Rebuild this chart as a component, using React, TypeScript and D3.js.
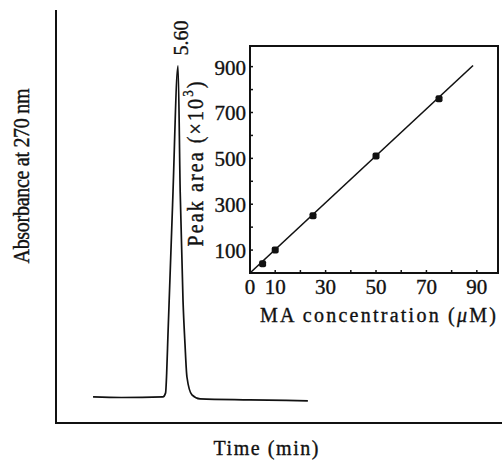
import React from "react";
import * as d3 from "d3";

// chromatogram trace: time (min), absorbance (arbitrary units)
const traceTime = [1.7, 3.0, 4.91, 5.03, 5.08, 5.14, 5.35, 5.6, 5.7, 5.83, 5.92, 6.01, 6.24, 6.61, 8.9, 11.56];
const traceAbs = [0.0, -0.002, 0.0, 0.012, 0.072, 0.19, 0.58, 1.0, 0.62, 0.29, 0.16, 0.06, 0.006, -0.006, -0.009, -0.012];
const peakLabel = "5.60";

// inset calibration
const concValues = [5, 10, 25, 50, 75];
const areaValues = [40, 100, 250, 510, 760];
const fitConc = [0, 88.5];
const fitArea = [0, 905];
const insetXTicks = [0, 10, 30, 50, 70, 90];
const insetYTicks = [100, 300, 500, 700, 900];

const W = 502, H = 460;
const FONT = "'Liberation Serif', 'Times New Roman', serif";
const INK = "#111";

// thin outline to mimic the heavier print face
const txt = { fill: INK, stroke: INK, strokeWidth: 0.35 };

export default function App() {
  const x = d3.scaleLinear().domain([0, 20.47]).range([56, 502]);
  const y = d3.scaleLinear().domain([-0.079, 1.169]).range([423, 10]);

  const ix = d3.scaleLinear().domain([0, 98.4]).range([250, 498]);
  const iy = d3.scaleLinear().domain([0, 990]).range([273, 46]);

  const trace = d3.line<number>()
    .x((d, i) => x(traceTime[i]))
    .y(d => y(d))
    .curve(d3.curveMonotoneX)(traceAbs);

  const fit = d3.line<number>()
    .x((d, i) => ix(fitConc[i]))
    .y(d => iy(d))(fitArea);

  const peakX = x(5.6);
  const minorX = d3.range(10, 91, 10);
  const minorY = d3.range(100, 901, 100);

  return (
    <div style={{ position: "fixed", left: 0, top: 0 }}>
      <svg width={W} height={H} style={{ display: "block", background: "#fff" }} fontFamily={FONT}>
        {/* main axes */}
        <path d={`M${x(0)},${y(1.169)}V${y(-0.079)}H${W}`} fill="none" stroke={INK} strokeWidth={2} />
        <path d={trace || ""} fill="none" stroke={INK} strokeWidth={1.7} />
        <text transform={`translate(${peakX + 3},38) rotate(-90)`} textAnchor="middle" dominantBaseline="central" fontSize={20} {...txt}>{peakLabel}</text>
        <text transform="translate(22,176) scale(1.12,1) rotate(-90)" textAnchor="middle" dominantBaseline="central" fontSize={20} {...txt} textLength={175}>Absorbance at 270 nm</text>
        <text x={266} y={455} textAnchor="middle" fontSize={20} {...txt} textLength={105}>Time (min)</text>

        {/* inset */}
        <rect x={ix(0)} y={iy(990)} width={ix(98.4) - ix(0)} height={iy(0) - iy(990)} fill="#fff" stroke={INK} strokeWidth={2} />
        {minorX.map(t => (
          <line key={"mx" + t} x1={ix(t)} x2={ix(t)} y1={iy(0)} y2={iy(0) - 3} stroke={INK} strokeWidth={1.5} />
        ))}
        {minorY.map(t => (
          <line key={"my" + t} x1={ix(0)} x2={ix(0) + 3} y1={iy(t)} y2={iy(t)} stroke={INK} strokeWidth={1.5} />
        ))}
        {insetXTicks.map(t => (
          <text key={"xt" + t} x={ix(t)} y={294} textAnchor="middle" fontSize={21} {...txt}>{t}</text>
        ))}
        {insetYTicks.map(t => (
          <text key={"yt" + t} x={246} y={iy(t) + 1} textAnchor="end" dominantBaseline="central" fontSize={21} {...txt}>{t}</text>
        ))}
        <path d={fit || ""} fill="none" stroke={INK} strokeWidth={1.6} />
        {concValues.map((c, i) => (
          <rect key={"p" + c} x={ix(c) - 3.5} y={iy(areaValues[i]) - 3.5} width={7} height={7} rx={2} fill={INK} />
        ))}
        <text transform="translate(196,164) scale(1.12,1) rotate(-90)" textAnchor="middle" dominantBaseline="central" fontSize={20} {...txt} textLength={165}>
          Peak area (×10<tspan baselineShift="super" fontSize={13}>3</tspan>)
        </text>
        <text x={378} y={322} textAnchor="middle" fontSize={20} {...txt} textLength={236}>MA concentration (<tspan fontStyle="italic">μ</tspan>M)</text>
      </svg>
    </div>
  );
}
